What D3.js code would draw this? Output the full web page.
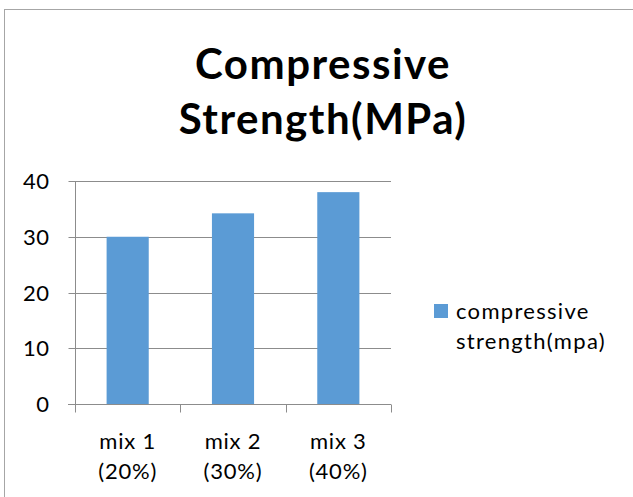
<!DOCTYPE html>
<html><head><meta charset="utf-8">
<script src="https://cdn.jsdelivr.net/npm/d3@7"></script>
<style>body{margin:0;background:#fff;} svg{display:block;font-family:Lato,"Noto Sans",sans-serif;}</style>
</head><body>
<script>
const categories = [["mix 1","(20%)"],["mix 2","(30%)"],["mix 3","(40%)"]];
const values = [30, 34.2, 38];
const yTicks = [0, 10, 20, 30, 40];
const seriesName = ["compressive", "strength(mpa)"];
const titleLines = ["Compressive", "Strength(MPa)"];

const W = 633, H = 497;
const svg = d3.select("body").append("svg").attr("width", W).attr("height", H);
svg.append("rect").attr("x", 4.5).attr("y", 9.5).attr("width", W + 10).attr("height", H + 10)
  .attr("fill", "#fff").attr("stroke", "#a6a6a6").attr("stroke-width", 1);

const x = d3.scaleBand().domain(categories.map(d => d[0])).range([75, 391]).paddingInner(0.6).paddingOuter(0.3);
const y = d3.scaleLinear().domain([0, 40]).range([404, 181]);

// gridlines
svg.append("g").selectAll("line").data(yTicks.filter(t => t > 0)).join("line")
  .attr("x1", 75).attr("x2", 391).attr("y1", d => Math.round(y(d)) + 0.5).attr("y2", d => Math.round(y(d)) + 0.5)
  .attr("stroke", "#8c8c8c").attr("stroke-width", 1);

// bars
svg.append("g").selectAll("rect").data(values).join("rect")
  .attr("x", (d, i) => x(categories[i][0])).attr("width", x.bandwidth())
  .attr("y", d => y(d)).attr("height", d => y(0) - y(d)).attr("fill", "#5b9bd5");

// y axis
const yAxis = d3.axisLeft(y).tickValues(yTicks).tickSize(7).tickPadding(20).tickFormat(d3.format("d"));
const gy = svg.append("g").attr("transform", "translate(75.5,0)").call(yAxis);
gy.select(".domain").attr("stroke", "#8c8c8c").attr("d", `M0,${y(40)}V${y(0)}`);
gy.selectAll(".tick line").attr("stroke", "#8c8c8c");
gy.selectAll(".tick").attr("transform", d => `translate(0,${Math.round(y(d)) + 0.5})`);
gy.selectAll("text").attr("font-size", 22).attr("fill", "#000").attr("font-family", "Lato").attr("x", -26).attr("letter-spacing", 0.5);

// x axis
const xEdge = d3.scaleLinear().domain([0, 3]).range([75, 391]);
const gx = svg.append("g").attr("transform", `translate(0,${Math.round(y(0)) + 0.5})`);
gx.append("line").attr("x1", 68).attr("x2", 391).attr("stroke", "#8c8c8c");
gx.selectAll(".edge").data(d3.range(4)).join("line").attr("class", "edge")
  .attr("x1", d => Math.round(xEdge(d)) + 0.5).attr("x2", d => Math.round(xEdge(d)) + 0.5)
  .attr("y1", 0).attr("y2", 8).attr("stroke", "#8c8c8c");
const lab = gx.selectAll(".lab").data(categories).join("text").attr("class", "lab")
  .attr("text-anchor", "middle").attr("font-size", 22).attr("letter-spacing", 0.8).attr("fill", "#000");
lab.each(function(d) {
  const t = d3.select(this);
  const cx = x(d[0]) + x.bandwidth() / 2;
  t.append("tspan").attr("x", cx).attr("y", 44).text(d[0]);
  t.append("tspan").attr("x", cx).attr("y", 74).text(d[1]);
});

// title
svg.append("text").attr("text-anchor", "middle").attr("font-size", 42).attr("font-weight", "bold")
  .attr("letter-spacing", 1.5).attr("fill", "#000")
  .selectAll("tspan").data(titleLines).join("tspan").attr("x", 323).attr("y", (d, i) => 79 + i * 55).text(d => d);

// legend
svg.append("rect").attr("x", 434).attr("y", 304).attr("width", 14).attr("height", 14).attr("fill", "#5b9bd5");
svg.append("text").attr("font-size", 22).attr("letter-spacing", 1.3).attr("fill", "#000")
  .selectAll("tspan").data(seriesName).join("tspan").attr("x", 456).attr("y", (d, i) => 319 + i * 30).text(d => d);
</script>
</body></html>
